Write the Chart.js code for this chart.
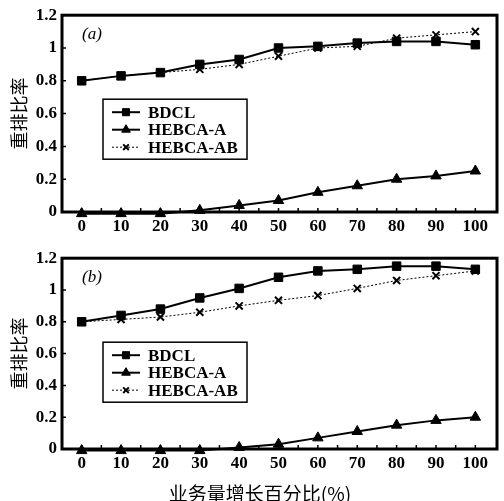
<!DOCTYPE html>
<html>
<head>
<meta charset="utf-8">
<script src="https://cdn.jsdelivr.net/npm/chart.js@4.4.0/dist/chart.umd.min.js"></script>
<style>
body { margin: 0; background: #fff; width: 504px; height: 501px; position: relative; overflow: hidden; }
canvas { position: absolute; left: 0; }
#chart-a { top: 0; }
#chart-b { top: 243px; }
#x-title { position: absolute; left: 160px; width: 200px; top: 479px; text-align: center;
  font: 19px 'Noto Sans CJK SC'; color: #000; white-space: nowrap; }
</style>
</head>
<body>
<canvas id="chart-a" width="504" height="243"></canvas>
<canvas id="chart-b" width="504" height="258"></canvas>
<div id="x-title">业务量增长百分比(%)</div>
<script>
const growth = [0, 10, 20, 30, 40, 50, 60, 70, 80, 90, 100];
const seriesNames = ['BDCL', 'HEBCA-A', 'HEBCA-AB'];
const yTicks = [0, 0.2, 0.4, 0.6, 0.8, 1, 1.2];

// (a)
const bdclA = [0.80, 0.83, 0.85, 0.90, 0.93, 1.00, 1.01, 1.03, 1.04, 1.04, 1.02];
const hebcaA_A = [-0.01, -0.01, -0.01, 0.01, 0.04, 0.07, 0.12, 0.16, 0.20, 0.22, 0.25];
const hebcaAB_A = [0.80, 0.83, 0.85, 0.87, 0.90, 0.95, 1.00, 1.01, 1.06, 1.08, 1.10];

// (b)
const bdclB = [0.80, 0.84, 0.88, 0.95, 1.01, 1.08, 1.12, 1.13, 1.15, 1.15, 1.13];
const hebcaA_B = [-0.01, -0.01, -0.01, -0.01, 0.01, 0.03, 0.07, 0.11, 0.15, 0.18, 0.20];
const hebcaAB_B = [0.80, 0.815, 0.83, 0.86, 0.90, 0.935, 0.965, 1.01, 1.06, 1.09, 1.12];

const serif = '"Liberation Serif", "Times New Roman", serif';

function toPoints(values) {
    return growth.map((g, i) => ({ x: g, y: values[i] }));
}

function makeDatasets(bdcl, hA, hAB) {
    return [
        { label: seriesNames[0], data: toPoints(bdcl), borderColor: '#000', backgroundColor: '#000',
          borderWidth: 2, pointStyle: 'rect', pointRadius: 6, pointBorderWidth: 1, clip: false },
        { label: seriesNames[1], data: toPoints(hA), borderColor: '#000', backgroundColor: '#000',
          borderWidth: 2, pointStyle: 'triangle', pointRadius: 6, pointBorderWidth: 1, clip: false },
        { label: seriesNames[2], data: toPoints(hAB), borderColor: '#000', backgroundColor: '#000',
          borderWidth: 1, borderDash: [2, 2], pointStyle: 'crossRot', pointRadius: 5, pointBorderWidth: 2, clip: false }
    ];
}

// frame, inner ticks, panel letter
const framePlugin = {
    id: 'frame',
    afterDatasetsDraw(chart, args, opts) {
        const { ctx, chartArea } = chart;
        const xs = chart.scales.x, ys = chart.scales.y;
        ctx.save();
        ctx.strokeStyle = '#000';
        ctx.lineWidth = 1.5;
        ctx.beginPath();
        for (let v = 0; v <= 100; v += 5) {
            const px = xs.getPixelForValue(v);
            ctx.moveTo(px, chartArea.bottom);
            ctx.lineTo(px, chartArea.bottom - 4);
        }
        yTicks.forEach(v => {
            const py = ys.getPixelForValue(v);
            ctx.moveTo(chartArea.left, py);
            ctx.lineTo(chartArea.left + 4, py);
        });
        ctx.stroke();
        ctx.lineWidth = 3;
        ctx.strokeRect(chartArea.left, chartArea.top, chartArea.right - chartArea.left, chartArea.bottom - chartArea.top);

        ctx.fillStyle = '#000';
        ctx.font = 'italic 17px ' + serif;
        ctx.textBaseline = 'middle';
        ctx.fillText(opts.panel, chartArea.left + 20, chartArea.top + 19);
        ctx.restore();
    }
};

const boxLegend = {
    id: 'boxLegend',
    afterDraw(chart) {
        const { ctx, chartArea } = chart;
        const x0 = chartArea.left + 41, y0 = chartArea.top + 84;
        ctx.save();
        ctx.fillStyle = '#fff';
        ctx.fillRect(x0, y0, 144, 60);
        ctx.strokeStyle = '#000';
        ctx.lineWidth = 1.5;
        ctx.strokeRect(x0, y0, 144, 60);
        chart.data.datasets.forEach((ds, i) => {
            const y = y0 + 13 + i * 17.5;
            ctx.setLineDash(ds.borderDash || []);
            ctx.lineWidth = ds.borderWidth;
            ctx.beginPath();
            ctx.moveTo(x0 + 9, y);
            ctx.lineTo(x0 + 37, y);
            ctx.stroke();
            ctx.setLineDash([]);
            ctx.fillStyle = '#000';
            ctx.lineWidth = ds.pointBorderWidth;
            Chart.helpers.drawPoint(ctx, { pointStyle: ds.pointStyle, radius: ds.pointRadius - 1,
                borderWidth: ds.pointBorderWidth, rotation: 0 }, x0 + 23, y);
            ctx.font = 'bold 17px ' + serif;
            ctx.textBaseline = 'middle';
            ctx.fillText(ds.label, x0 + 45, y + 1);
        });
        ctx.restore();
    }
};

function makeChart(id, datasets, panel, xHeight) {
    const ctx = document.getElementById(id).getContext('2d');
    return new Chart(ctx, {
        type: 'line',
        data: { datasets },
        options: {
            responsive: false,
            animation: false,
            devicePixelRatio: 1,
            layout: { padding: { top: 7, right: 7, left: 0, bottom: 0 } },
            plugins: { legend: { display: false }, tooltip: { enabled: false }, frame: { panel } },
            elements: { line: { tension: 0 } },
            scales: {
                x: {
                    type: 'linear', min: -5, max: 105.5,
                    afterBuildTicks: s => { s.ticks = growth.map(v => ({ value: v })); },
                    afterFit: s => { s.height = xHeight; },
                    grid: { display: false, drawTicks: false },
                    border: { display: false },
                    ticks: { color: '#000', padding: 4, font: { family: serif, size: 17, weight: 'bold' } }
                },
                y: {
                    min: 0, max: 1.2,
                    afterBuildTicks: s => { s.ticks = yTicks.map(v => ({ value: v })); },
                    afterFit: s => { s.width = 62; },
                    grid: { display: false, drawTicks: false },
                    border: { display: false },
                    ticks: { color: '#000', padding: 5, font: { family: serif, size: 17, weight: 'bold' },
                             callback: v => String(Math.round(v * 10) / 10) },
                    title: { display: true, text: '重排比率', color: '#000', padding: { top: 8 },
                             font: { family: 'Noto Sans CJK SC', size: 18, weight: 'normal' } }
                }
            }
        },
        plugins: [framePlugin, boxLegend]
    });
}

makeChart('chart-a', makeDatasets(bdclA, hebcaA_A, hebcaAB_A), '(a)', 31);
makeChart('chart-b', makeDatasets(bdclB, hebcaA_B, hebcaAB_B), '(b)', 52);
</script>
</body>
</html>
